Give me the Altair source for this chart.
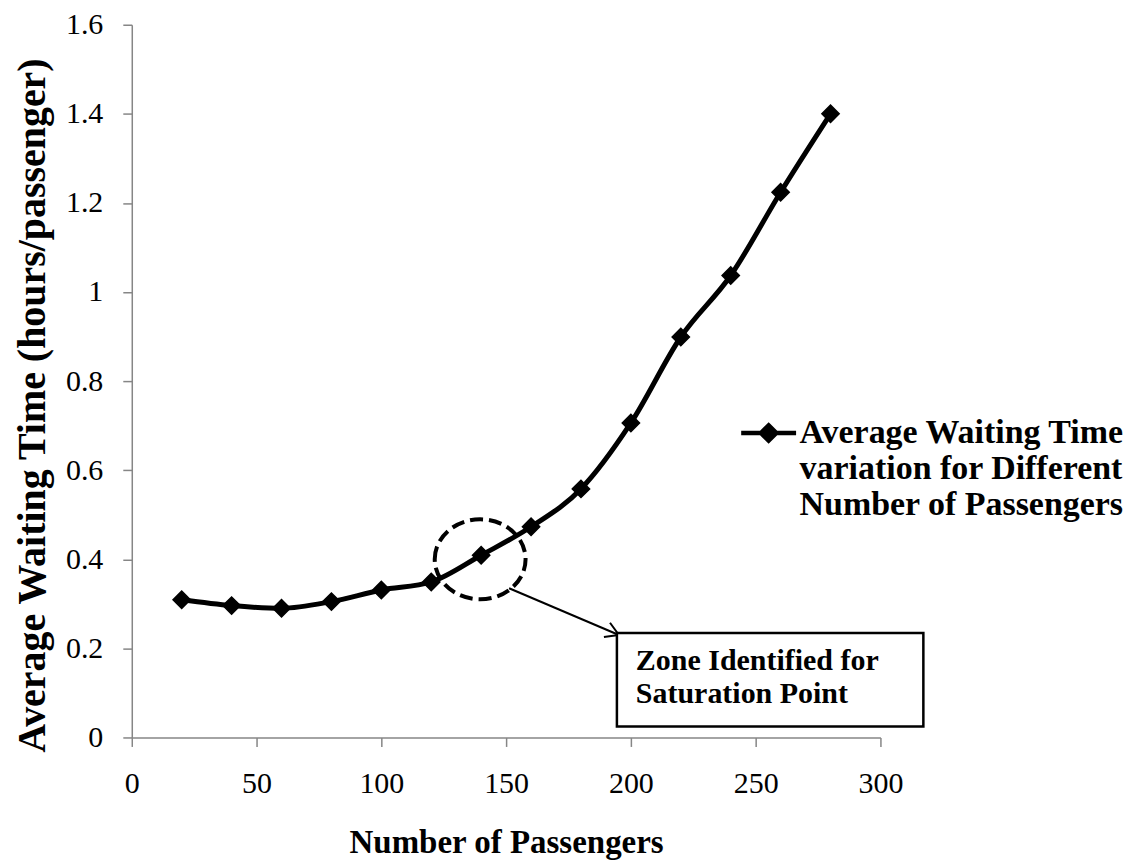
import altair as alt
import pandas as pd

# ---------------- data ----------------
passengers = [20, 40, 60, 80, 100, 120, 140, 160, 180, 200, 220, 240, 260, 280]
wait_time = [0.309, 0.296, 0.290, 0.305, 0.331, 0.349, 0.409, 0.473, 0.558,
             0.706, 0.899, 1.037, 1.224, 1.400]
series_name = "Average Waiting Time variation for Different Number of Passengers"
legend_lines = ["Average Waiting Time", "variation for Different", "Number of Passengers"]
x_ticks = [0, 50, 100, 150, 200, 250, 300]
y_ticks = [0, 0.2, 0.4, 0.6, 0.8, 1.0, 1.2, 1.4, 1.6]

# annotation (data units)
zone_center_x = [139.6]
zone_center_y = [0.400]
arrow_from = [151.2, 0.335]
arrow_to = [195.2, 0.230]
box_x = [194.4, 317.2]
box_y = [0.2347, 0.0246]
box_text_pos = [202.0, 0.152]
box_text = "Zone Identified for\nSaturation Point"

FONT = "Liberation Serif"

df = pd.DataFrame({"Passengers": passengers, "Wait": wait_time,
                   "Series": [series_name] * len(passengers)})

x_scale = alt.Scale(domain=[0, 300], nice=False, zero=False)
y_scale = alt.Scale(domain=[0, 1.6], nice=False)

x_axis = alt.Axis(values=x_ticks, title="Number of Passengers", grid=False,
                  domainColor="#868686", domainWidth=1.5, tickColor="#868686",
                  tickWidth=1.5, tickSize=9, labelFont=FONT, labelFontSize=30,
                  labelColor="black", labelPadding=22, labelFlush=False,
                  titleFont=FONT, titleFontSize=33, titleFontWeight="bold",
                  titleColor="black", titleBaseline="alphabetic", titleY=115)
y_axis = alt.Axis(values=y_ticks, format="~g", title="Average Waiting Time (hours/passenger)",
                  grid=False, domainColor="#868686", domainWidth=1.5,
                  tickColor="#868686", tickWidth=1.5, tickSize=9, labelFont=FONT,
                  labelFontSize=30, labelColor="black", labelPadding=20,
                  labelFlush=False, titleFont=FONT, titleFontSize=40,
                  titleFontWeight="bold", titleColor="black",
                  titleBaseline="alphabetic", titleX=-87, titleY=381)

legend_symbol = "M-1,0L1,0M0,-0.28L0.28,0L0,0.28L-0.28,0Z"
label_expr = "[" + ",".join("'" + s + "'" for s in legend_lines) + "]"

color = alt.Color("Series:N", scale=alt.Scale(range=["black"]),
                  legend=alt.Legend(title=None, orient="none", legendX=608, legendY=379,
                                    symbolType=legend_symbol, symbolSize=3025,
                                    symbolStrokeWidth=4.5, symbolFillColor="black",
                                    symbolStrokeColor="black", labelFont=FONT,
                                    labelFontSize=34, labelFontWeight="bold",
                                    labelColor="black", labelLimit=0,
                                    labelExpr=label_expr, labelOffset=1, padding=0))

base = alt.Chart(df).encode(
    x=alt.X("Passengers:Q", scale=x_scale, axis=x_axis),
    y=alt.Y("Wait:Q", scale=y_scale, axis=y_axis),
    color=color,
)

line = base.mark_line(strokeWidth=5, interpolate="monotone")
points = base.mark_point(shape="diamond", size=300, filled=True, opacity=1,
                         stroke="black", strokeWidth=1.5)

ellipse_path = ("M-1,0C-1,-0.486 -0.552,-0.88 0,-0.88C0.552,-0.88 1,-0.486 1,0"
                "C1,0.486 0.552,0.88 0,0.88C-0.552,0.88 -1,0.486 -1,0Z")
zone_df = pd.DataFrame({"x": zone_center_x, "y": zone_center_y})
zone = alt.Chart(zone_df).mark_point(shape=ellipse_path, size=8281, filled=False,
                                     stroke="black", strokeWidth=4,
                                     strokeDash=[13, 6], opacity=1).encode(
    x=alt.X("x:Q", scale=x_scale), y=alt.Y("y:Q", scale=y_scale))

arrow_df = pd.DataFrame({"x": [arrow_from[0]], "y": [arrow_from[1]],
                         "x2": [arrow_to[0]], "y2": [arrow_to[1]]})
arrow_line = alt.Chart(arrow_df).mark_rule(color="black", strokeWidth=2).encode(
    x=alt.X("x:Q", scale=x_scale), y=alt.Y("y:Q", scale=y_scale),
    x2="x2:Q", y2="y2:Q")
head_df = pd.DataFrame({"x": [arrow_to[0]], "y": [arrow_to[1]]})
arrow_head = alt.Chart(head_df).mark_point(shape="M-1,-0.6L0,0L-1,0.6", size=676,
                                           angle=23, filled=False, stroke="black",
                                           strokeWidth=2, opacity=1).encode(
    x=alt.X("x:Q", scale=x_scale), y=alt.Y("y:Q", scale=y_scale))

box_df = pd.DataFrame({"x": [box_x[0]], "x2": [box_x[1]], "y": [box_y[0]], "y2": [box_y[1]]})
box = alt.Chart(box_df).mark_rect(fill="white", stroke="black", strokeWidth=2.5).encode(
    x=alt.X("x:Q", scale=x_scale), x2="x2:Q",
    y=alt.Y("y:Q", scale=y_scale), y2="y2:Q")

text_df = pd.DataFrame({"x": [box_text_pos[0]], "y": [box_text_pos[1]], "t": [box_text]})
box_label = alt.Chart(text_df).mark_text(align="left", baseline="alphabetic",
                                         font=FONT, fontSize=30, fontWeight="bold",
                                         color="black", lineBreak="\n",
                                         lineHeight=33).encode(
    x=alt.X("x:Q", scale=x_scale), y=alt.Y("y:Q", scale=y_scale), text="t:N")

chart = alt.layer(line, points, zone, arrow_line, arrow_head, box, box_label).properties(
    width=750, height=714,
    autosize=alt.AutoSizeParams(type="none"),
    padding={"left": 124, "top": 16, "right": 243, "bottom": 125},
).configure(background="white").configure_view(strokeWidth=0)

chart.save("out.html", embed_options={"renderer": "svg", "actions": False})
